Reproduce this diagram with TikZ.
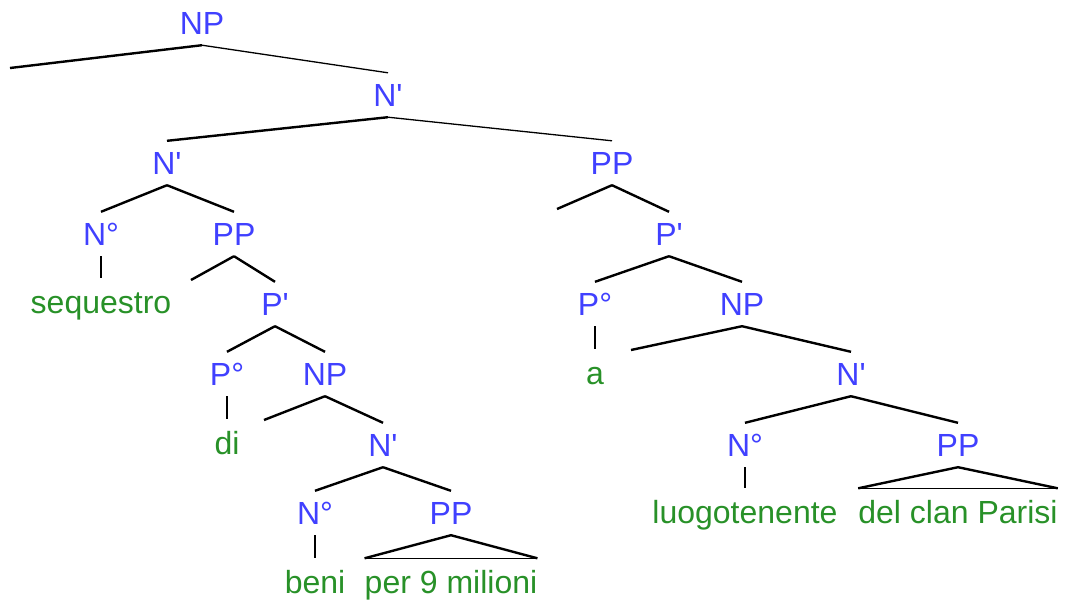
\documentclass[tikz,border=0pt]{standalone}
\usepackage{fontspec}
\setmainfont{Liberation Sans}
\usetikzlibrary{positioning}
\definecolor{CatBlue}{RGB}{64,64,255}
\definecolor{WordGreen}{RGB}{40,145,40}
\newcommand{\prm}{\textquotesingle}

\begin{document}
\begin{tikzpicture}[x=1pt, y=-1pt,
    every node/.style={font=\fontsize{32}{38}\selectfont, inner xsep=0pt, text height=23pt, text depth=0pt},
    cat/.style={text=CatBlue, inner ysep=10.5pt},
    word/.style={text=WordGreen, anchor=base, inner ysep=11.5pt},
    branch/.style={line width=2.4pt},
    thinbranch/.style={line width=1.3pt},
    stem/.style={line width=1.6pt},
    roof/.style={line width=2.4pt, line join=miter}]
    \useasboundingbox (0,0) rectangle (1065,603);
    % Categories
    \node[cat] (np) at (202,23) {NP};
    \node[cat] (nbar) at (388,95) {N\prm};
    \node[cat] (nbarL) at (167,163) {N\prm};
    \node[cat] (ppR) at (612,163) {PP};
    \node[cat] (n1) at (101,234) {N°};
    \node[cat] (pp1) at (234,234) {PP};
    \node[cat] (pbar1) at (275,304) {P\prm};
    \node[cat] (p1) at (227,374) {P°};
    \node[cat] (np1) at (325,374) {NP};
    \node[cat] (nbar1) at (383,445) {N\prm};
    \node[cat] (n2) at (315,513) {N°};
    \node[cat] (pp2) at (451,513) {PP};
    \node[cat] (pbar2) at (669,234) {P\prm};
    \node[cat] (p2) at (595,304) {P°};
    \node[cat] (np2) at (742,304) {NP};
    \node[cat] (nbar2) at (851,374) {N\prm};
    \node[cat] (n3) at (745,445) {N°};
    \node[cat] (pp3) at (958,445) {PP};
    % Words
    \node[word] (sequestro) at (101,313) {sequestro};
    \node[word] (di) at (227,454) {di};
    \node[word] (beni) at (315,593) {beni};
    \node[word] (milioni) at (451,593) {per 9 milioni};
    \node[word] (a) at (595,384) {a};
    \node[word] (luogo) at (745,523) {luogotenente};
    \node[word] (parisi) at (958,523) {del clan Parisi};
    % Empty specifiers
    \coordinate (specNP) at (10,68);
    \coordinate (specPP1) at (191,280);
    \coordinate (specNP1) at (264,420);
    \coordinate (specPP) at (557,209);
    \coordinate (specNP2) at (631,350);
    % Branches
    \draw[branch] (np.south) -- (specNP);
    \draw[thinbranch] (np.south) -- (nbar.north);
    \draw[branch] (nbar.south) -- (nbarL.north);
    \draw[thinbranch] (nbar.south) -- (ppR.north);
    \draw[branch] (nbarL.south) -- (n1.north);
    \draw[branch] (nbarL.south) -- (pp1.north);
    \draw[branch] (pp1.south) -- (specPP1);
    \draw[branch] (pp1.south) -- (pbar1.north);
    \draw[branch] (pbar1.south) -- (p1.north);
    \draw[branch] (pbar1.south) -- (np1.north);
    \draw[branch] (np1.south) -- (specNP1);
    \draw[branch] (np1.south) -- (nbar1.north);
    \draw[branch] (nbar1.south) -- (n2.north);
    \draw[branch] (nbar1.south) -- (pp2.north);
    \draw[branch] (ppR.south) -- (specPP);
    \draw[branch] (ppR.south) -- (pbar2.north);
    \draw[branch] (pbar2.south) -- (p2.north);
    \draw[branch] (pbar2.south) -- (np2.north);
    \draw[branch] (np2.south) -- (specNP2);
    \draw[branch] (np2.south) -- (nbar2.north);
    \draw[branch] (nbar2.south) -- (n3.north);
    \draw[branch] (nbar2.south) -- (pp3.north);
    % Heads to words
    \draw[stem] (n1.south) -- (sequestro.north);
    \draw[stem] (p1.south) -- (di.north);
    \draw[stem] (n2.south) -- (beni.north);
    \draw[stem] (p2.south) -- (a.north);
    \draw[stem] (n3.south) -- (luogo.north);
    % Roofs
    \draw[roof] (milioni.north west) -- (pp2.south) -- (milioni.north east);
    \draw[stem] (milioni.north west) -- (milioni.north east);
    \draw[roof] (parisi.north west) -- (pp3.south) -- (parisi.north east);
    \draw[stem] (parisi.north west) -- (parisi.north east);
\end{tikzpicture}
\end{document}
